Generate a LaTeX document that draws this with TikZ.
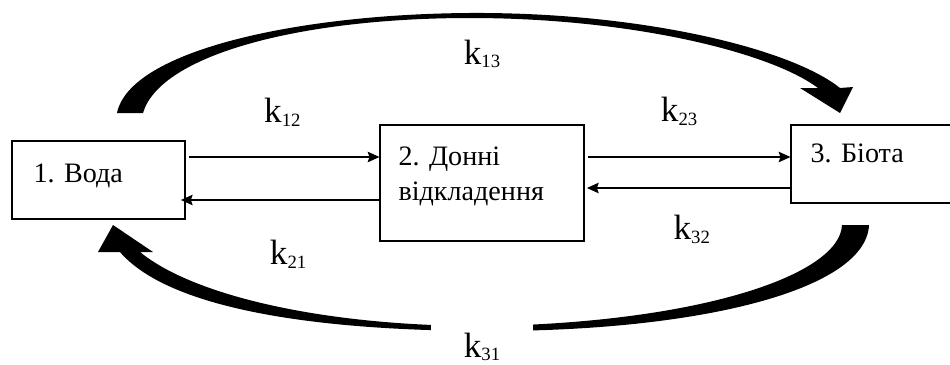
\documentclass[tikz,border=0pt]{standalone}
\usepackage{fontspec}
\setmainfont{Liberation Serif}
\usetikzlibrary{arrows.meta}
\newcommand{\kk}[1]{k\raisebox{-3.4pt}{\fontsize{16}{16}\selectfont #1}}

\begin{document}
\begin{tikzpicture}[x=0.03cm, y=-0.03cm, line width=1pt,
  >={Stealth[length=10pt,width=9pt,inset=1.5pt]},
  box/.style={draw, rectangle, inner sep=0pt},
  boxtext/.style={inner sep=0pt, font=\rmfamily\fontsize{24}{30}\selectfont, align=left},
  klabel/.style={inner sep=0pt, font=\rmfamily\fontsize{30}{30}\selectfont}]
  \useasboundingbox (0,0) rectangle (950,365);

  \node[box, minimum width=5.19cm, minimum height=2.34cm] (voda) at (98.5,180) {};
  \node[box, minimum width=6.12cm, minimum height=3.48cm] (donni) at (482,183) {};
  \node[box, minimum width=4.83cm, minimum height=2.34cm] (biota) at (871.5,164) {};
  \node[boxtext, anchor=base west] (voda_t) at (33,182) {1. Вода};
  \node[boxtext, anchor=north west] (donni_t) at (398,146) {2. Донні\\відкладення};
  \node[boxtext, anchor=base west] (biota_t) at (810,162) {3. Біота};

  \path[->] ([xshift=3pt]voda.east |- 0,157) edge node[klabel, above=0.9cm, pos=0.49] (k12) {\kk{12}} (donni.west |- 0,157)
  (donni.west |- 0,200) edge node[klabel, below=1.2cm, pos=0.46] (k21) {\kk{21}} ([xshift=-4pt]voda.east |- 0,200)
  ([xshift=3pt]donni.east |- 0,157) edge node[klabel, above=0.93cm, pos=0.45] (k23) {\kk{23}} (biota.west |- 0,157)
  (biota.west |- 0,188) edge node[klabel, below=0.81cm, pos=0.485] (k32) {\kk{32}} ([xshift=2pt]donni.east |- 0,188);

  \fill (117,113) .. controls (130,50) and (300,14) .. (470,13) .. controls (640,12) and (790,48) .. (840,88)
    -- (853,87) -- (840,113) -- (800,88) -- (818,88) .. controls (770,52) and (630,18) .. (470,18)
    .. controls (300,18) and (160,55) .. (143,113) -- cycle;
  \fill (842,225) .. controls (840,275) and (700,322) .. (490,326) .. controls (330,327) and (195,297) .. (140,252)
    -- (153,252) -- (113,225) -- (98,252) -- (120,252) .. controls (170,310) and (320,331) .. (490,331)
    .. controls (700,331) and (866,290) .. (869,225) -- cycle;

  \node[klabel, anchor=base] (k13) at (482,64) {\kk{13}};
  \node[klabel, anchor=base, fill=white, text height=30pt, text depth=4pt, minimum width=3.06cm] (k31) at (482,357) {\kk{31}};
\end{tikzpicture}
\end{document}
